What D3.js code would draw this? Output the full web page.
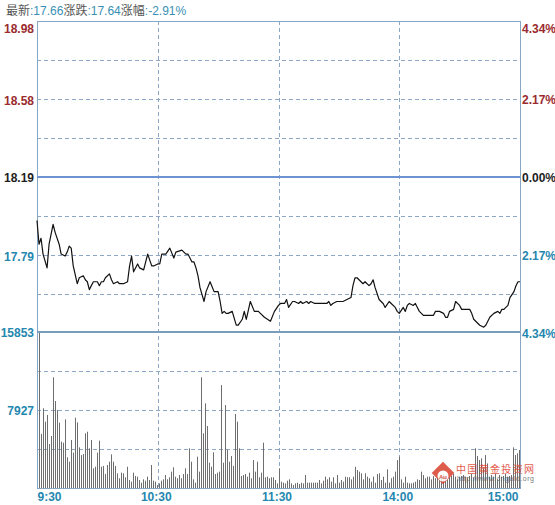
<!DOCTYPE html>
<html>
<head>
<meta charset="utf-8">
<script src="https://cdn.jsdelivr.net/npm/d3@7"></script>
<style>
body { margin: 0; background: #fff; }
svg { display: block; font-family: "Liberation Sans", Arial, "Noto Sans CJK SC", sans-serif; }
</style>
</head>
<body>
<script>

var width = 555, height = 505;

//
//**   Dane   **/
//

var prevClose = 18.19;
var maxPct = 4.34;
var volMax = 15853;

var headerParts = ["最新", ":17.66", "涨跌", ":17.64", "涨幅", ":-2.91%"];

var timeLabels = ["9:30", "10:30", "11:30", "14:00", "15:00"];
var timeTicks = [0, 60, 120, 180, 240];

var priceTicks = [18.98, 18.58, 18.19, 17.79];
var pctTicks = [4.34, 2.17, 0, -2.17, -4.34];
var volTicks = [15853, 7927];

var priceMin = [0,1,2,3,5,6,8,9,11,12, 14,15,16,17,18,20,21,23,24,25,
  26,28,30,31,32,33,34,36,37,38, 40,41,43,45,46,47,48,50,51,53,
  55,57,58,60,61,62,64,66,68,69, 72,74,75,77,78,79,80,81,83,84,
  86,88,89,90,91,92,93,94,95,97, 99,100,102,103,104,106,108,110,111,113,
  116,118,120,121,123,124,125,127,128,130, 131,132,134,135,136,138,139,141,144,145,
  146,147,149,152,154,156,157,158,159,161, 162,163,165,166,167,168,170,172,173,175,
  176,178,179,180,182,183,184,185,187,188, 189,190,192,195,197,198,200,202,203,204,
  205,207,208,210,211,213,215,216,217,219, 220,222,223,224,225,227,229,230,231,232,
  234,235,237,238,239,240];

var priceVal = [17.97,17.85,17.88,17.80,17.73,17.85,17.95,17.91,17.85,17.80,
  17.79,17.81,17.84,17.83,17.74,17.65,17.68,17.69,17.67,17.66,
  17.62,17.66,17.66,17.64,17.66,17.66,17.68,17.70,17.67,17.65,
  17.66,17.65,17.65,17.66,17.74,17.79,17.71,17.75,17.73,17.72,
  17.80,17.74,17.74,17.75,17.75,17.80,17.80,17.83,17.78,17.81,
  17.82,17.80,17.80,17.76,17.76,17.73,17.69,17.63,17.56,17.61,
  17.66,17.61,17.61,17.61,17.56,17.50,17.51,17.50,17.50,17.51,
  17.44,17.44,17.47,17.51,17.47,17.56,17.51,17.51,17.50,17.48,
  17.46,17.51,17.54,17.55,17.55,17.57,17.53,17.56,17.56,17.55,
  17.56,17.55,17.56,17.55,17.56,17.55,17.55,17.55,17.55,17.56,
  17.54,17.55,17.56,17.56,17.57,17.58,17.64,17.68,17.68,17.66,
  17.65,17.66,17.64,17.65,17.67,17.63,17.57,17.55,17.53,17.56,
  17.55,17.53,17.51,17.50,17.53,17.51,17.54,17.55,17.54,17.55,
  17.53,17.51,17.49,17.49,17.49,17.51,17.51,17.50,17.48,17.48,
  17.51,17.52,17.56,17.54,17.52,17.52,17.52,17.50,17.47,17.45,
  17.44,17.43,17.44,17.46,17.48,17.50,17.51,17.50,17.52,17.52,
  17.54,17.58,17.61,17.64,17.66,17.66];

var volMorning = [15853,5490,8100,6740,7420,4470,5280,11250,8840,7920,
  6640,4700,4600,6980,3120,2670,4880,3590,7140,6670,
  4130,3350,3450,5560,5720,4030,4880,2000,2160,3590,
  4810,2160,2240,1420,2340,2670,3420,2670,2240,1490,
  990,1560,1490,1090,2160,810,640,1560,1220,1150,
  810,540,880,740,1150,810,2340,740,640,300,
  470,740,880,1320,880,1090,1660,2100,1150,990,
  1320,990,1420,
  2000,1420,4030,2670,880,540,3180,1660,11250,5560,
  8600,6300,2570,2160,3630,1420,1560,1660,10460,2570,
  8430,3860,2670,3250,2240,7520,6740,4030,1220,1320,
  1420,1150,1560,990,2840,1660,2670,1090,1560,4600,
  1090,1150,990,1090,1090,810,470];

var volAfternoon = [2000,640,540,
  470,740,880,470,300,470,540,400,540,470,
  1320,540,540,540,540,540,540,810,470,740,
  1150,880,1090,640,1090,470,1320,540,810,640,
  1150,1090,1090,880,1150,2160,1830,1660,1490,880,
  1490,1150,
  990,640,1150,540,1420,1490,810,1150,540,1900,
  540,990,1150,1660,2840,3180,880,540,1150,540,
  470,470,540,640,880,810,1660,1320,990,1150,
  1150,880,1220,990,1090,990,1150,1420,1150,880,
  1090,1220,1420,1150,880,1150,1220,1320,1150,1090,
  1220,1420,1090,4030,3250,2840,3010,2000,3350,2500,
  1150,1320,1150,1420,880,1320,1150,1220,1420,1150,
  1220,1320,4130,3350,3520,3860];

var volume = volMorning.concat(volAfternoon);

//
//**   Kolory   **/
//

var cUp = "#9a2b2e", cDown = "#2487b0", cFlat = "#1e1e1e";
function pctColour(p) { return p > 0 ? cUp : (p < 0 ? cDown : cFlat); }

var svg = d3.select("body").append("svg")
    .attr("width", width)
    .attr("height", height);

//
//**   Skale   **/
//

var xLeft = 37, xRight = 520, yTop = 21, yMid = 333, yBot = 488;

var x = d3.scaleLinear()
    .domain([0, 240])
    .range([xLeft, xRight]);

var xv = d3.scaleLinear()
    .domain([0, volume.length - 1])
    .range([xLeft + 2.3, xRight - 0.7]);

var y = d3.scaleLinear()
    .domain([prevClose * (1 - maxPct / 100), prevClose * (1 + maxPct / 100)])
    .range([yMid, yTop]);

var yp = d3.scaleLinear()
    .domain([-maxPct, maxPct])
    .range([yMid, yTop]);

var yv = d3.scaleLinear()
    .domain([0, volMax])
    .range([yBot, yMid - 1]);

//
//**   Siatka   **/
//

var gridPct = d3.range(-4, 5).map(function (k) { return k * maxPct / 4; });

svg.append("g").selectAll("line")
    .data(gridPct.filter(function (p) { return p !== 0 && Math.abs(p) < maxPct; }))
    .enter().append("line")
    .attr("x1", xLeft).attr("x2", xRight)
    .attr("y1", function (d) { return Math.round(yp(d)) + 0.5; })
    .attr("y2", function (d) { return Math.round(yp(d)) + 0.5; })
    .style("stroke", "#8ea7c6")
    .style("stroke-dasharray", "4,3");

var volGrid = [volMax / 4, volMax / 2, volMax * 3 / 4];
svg.append("g").selectAll("line")
    .data(volGrid)
    .enter().append("line")
    .attr("x1", xLeft).attr("x2", xRight)
    .attr("y1", function (d) { return Math.round(yv(d)) + 0.5; })
    .attr("y2", function (d) { return Math.round(yv(d)) + 0.5; })
    .style("stroke", "#8ea7c6")
    .style("stroke-dasharray", "4,3");

svg.append("g").selectAll("line")
    .data(timeTicks.slice(1, 4))
    .enter().append("line")
    .attr("x1", function (d) { return Math.round(x(d)) + 0.5; })
    .attr("x2", function (d) { return Math.round(x(d)) + 0.5; })
    .attr("y1", yTop).attr("y2", yBot)
    .style("stroke", "#8ea7c6")
    .style("stroke-dasharray", "4,3");

//
//**   Wolumen   **/
//

svg.append("g").selectAll("line")
    .data(volume)
    .enter().append("line")
    .attr("x1", function (d, i) { return Math.round(xv(i)) + 0.5; })
    .attr("x2", function (d, i) { return Math.round(xv(i)) + 0.5; })
    .attr("y1", yBot)
    .attr("y2", function (d) { return yv(d); })
    .style("stroke", "#6e6e6e")
    .style("stroke-width", 1);

//
//**   Ramki   **/
//

svg.append("rect")
    .attr("x", xLeft + 0.5).attr("y", yTop + 0.5)
    .attr("width", xRight - xLeft).attr("height", yBot - yTop)
    .style("fill", "none")
    .style("stroke", "#86a6c6");

svg.append("line")
    .attr("x1", xLeft).attr("x2", xRight)
    .attr("y1", y(prevClose)).attr("y2", y(prevClose))
    .style("stroke", "#6e93d2")
    .style("stroke-width", 2);

svg.append("line")
    .attr("x1", xLeft).attr("x2", xRight)
    .attr("y1", yMid - 1).attr("y2", yMid - 1)
    .style("stroke", "#7a9dbd")
    .style("stroke-width", 2);

//
//**   Linia ceny   **/
//

var pricePts = d3.zip(priceMin, priceVal);

var line = d3.line()
    .x(function (d) { return x(d[0]); })
    .y(function (d) { return y(d[1]); });

svg.append("path")
    .datum(pricePts)
    .attr("d", line)
    .style("fill", "none")
    .style("stroke", "#111")
    .style("stroke-width", 1.2)
    .style("stroke-linejoin", "round");

//
//**   Osie   **/
//

var gL = svg.append("g")
    .attr("transform", "translate(" + (xLeft - 3) + ",0)")
    .call(d3.axisLeft(y).tickValues(priceTicks).tickSize(0).tickPadding(0)
        .tickFormat(d3.format(".2f")));
gL.select(".domain").remove();
gL.selectAll("text")
    .style("font-size", "12px")
    .style("font-weight", "bold")
    .style("fill", function (d) { return pctColour(d - prevClose > 0.005 ? 1 : (d - prevClose < -0.005 ? -1 : 0)); })
    .attr("dy", function (d, i) { return i === 0 ? "0.95em" : "0.36em"; });

var gV = svg.append("g")
    .attr("transform", "translate(" + (xLeft - 3) + ",0)")
    .call(d3.axisLeft(yv).tickValues(volTicks).tickSize(0).tickPadding(0)
        .tickFormat(d3.format("d")));
gV.select(".domain").remove();
gV.selectAll("text")
    .style("font-size", "12px")
    .style("font-weight", "bold")
    .style("fill", cDown)
    .attr("dy", "0.36em");

var gR = svg.append("g")
    .attr("transform", "translate(" + (xRight + 2) + ",0)")
    .call(d3.axisRight(yp).tickValues(pctTicks).tickSize(0).tickPadding(0)
        .tickFormat(function (d) { return Math.abs(d).toFixed(2) + "%"; }));
gR.select(".domain").remove();
gR.selectAll("text")
    .style("font-size", "12px")
    .style("font-weight", "bold")
    .style("fill", function (d) { return pctColour(d); })
    .attr("dy", function (d, i) { return i === 0 ? "0.95em" : "0.36em"; });

var gX = svg.append("g")
    .attr("transform", "translate(0," + (yBot + 2) + ")")
    .call(d3.axisBottom(x).tickValues(timeTicks).tickSize(0).tickPadding(0)
        .tickFormat(function (d, i) { return timeLabels[i]; }));
gX.select(".domain").remove();
gX.selectAll("text")
    .style("font-size", "12px")
    .style("font-weight", "bold")
    .style("fill", cDown)
    .attr("dy", "0.9em")
    .attr("dx", function (d, i) { return i === 0 ? "0" : "-2"; })
    .style("text-anchor", function (d, i) { return i === 0 ? "start" : (i === 4 ? "end" : "middle"); });

//
//**   Nagłówek   **/
//

svg.append("text")
    .attr("x", 6)
    .attr("y", 15)
    .style("font-size", "12px")
    .selectAll("tspan")
    .data(headerParts)
    .enter().append("tspan")
    .style("fill", function (d, i) { return i % 2 ? "#3a90b4" : "#555"; })
    .text(function (d) { return d; });

//
//**   Znak wodny   **/
//

var wm = svg.append("g")
    .attr("transform", "translate(443,473)")
    .style("opacity", 0.85);

wm.append("rect")
    .attr("x", -8).attr("y", -8)
    .attr("width", 16).attr("height", 16)
    .attr("transform", "rotate(45)")
    .style("fill", "#d8402c");

wm.append("circle")
    .attr("cx", 0).attr("cy", 3).attr("r", 5.5)
    .style("fill", "#fff");

wm.append("text")
    .attr("x", 0).attr("y", 5.5)
    .style("text-anchor", "middle")
    .style("font-size", "6px")
    .style("font-weight", "bold")
    .style("fill", "#d8402c")
    .text("Au");

wm.append("text")
    .attr("x", 13).attr("y", 0)
    .attr("textLength", 78)
    .style("font-family", "'Noto Sans CJK SC'")
    .style("font-size", "10px")
    .style("fill", "#e0402c")
    .text("中国黄金投资网");

wm.append("text")
    .attr("x", 14).attr("y", 8)
    .attr("textLength", 77)
    .style("font-size", "7px")
    .style("fill", "#666")
    .text("http://www.cngold.org");

</script>
</body>
</html>
